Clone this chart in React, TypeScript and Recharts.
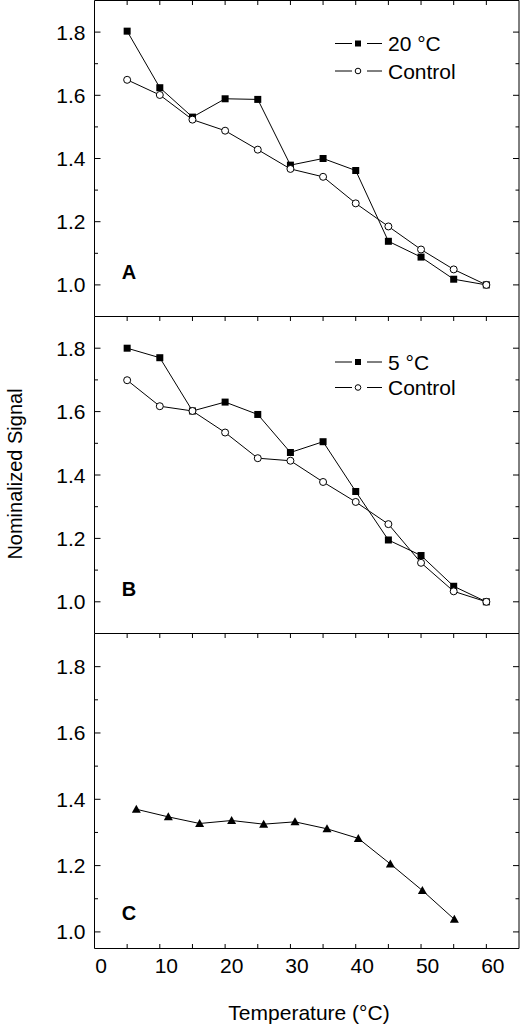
import { LineChart, Line, XAxis, YAxis, Legend } from "recharts";

// temperatures (°C) for panels A and B
const tempsAB = [4, 9, 14, 19, 24, 29, 34, 39, 44, 49, 54, 59];
const a20 = [1.803, 1.624, 1.531, 1.589, 1.587, 1.379, 1.4, 1.362, 1.138, 1.088, 1.018, 1.0];
const aCtrl = [1.649, 1.601, 1.523, 1.488, 1.428, 1.367, 1.342, 1.258, 1.185, 1.112, 1.049, 1.0];
const b5 = [1.8, 1.77, 1.602, 1.63, 1.591, 1.471, 1.505, 1.348, 1.195, 1.146, 1.049, 1.0];
const bCtrl = [1.699, 1.617, 1.602, 1.534, 1.453, 1.445, 1.378, 1.315, 1.245, 1.123, 1.033, 1.0];

// panel C
const tempsC = [5.4, 10.3, 15.1, 20.0, 24.9, 29.7, 34.6, 39.4, 44.3, 49.2, 54.1];
const cVals = [1.37, 1.347, 1.327, 1.336, 1.325, 1.332, 1.311, 1.282, 1.205, 1.125, 1.038];

const xLabels = [0, 10, 20, 30, 40, 50, 60];
const yMajor = [1.0, 1.2, 1.4, 1.6, 1.8];
const yMinor = [1.1, 1.3, 1.5, 1.7];

const FONT = "'Liberation Sans', Arial, Helvetica, sans-serif";
const X_DOMAIN = [-1, 64];
const yTicks = [...yMajor, ...yMinor].sort((a, b) => a - b);
const bottomTicks = [...xLabels, ...tempsAB].sort((a, b) => a - b);
const AXIS_LINE = { stroke: "#000", strokeWidth: 1 };

const dataA = tempsAB.map((t, i) => ({ t, s: a20[i], c: aCtrl[i] }));
const dataB = tempsAB.map((t, i) => ({ t, s: b5[i], c: bCtrl[i] }));
const dataC = tempsC.map((t, i) => ({ t, v: cVals[i] }));

function LeftTick(props: any) {
  const x = Number(props.x);
  const y = Number(props.y);
  const v = Number(props.payload.value);
  const major = yMajor.includes(v);
  return (
    <g>
      <line x1={x} x2={x + (major ? 6 : 3.5)} y1={y} y2={y} stroke="#000" strokeWidth={1} />
      {major && (
        <text x={x - 9} y={y} textAnchor="end" dominantBaseline="central" fontSize={21} fontFamily={FONT} fill="#000">
          {v.toFixed(1)}
        </text>
      )}
    </g>
  );
}

function RightTick(props: any) {
  const x = Number(props.x);
  const y = Number(props.y);
  const major = yMajor.includes(Number(props.payload.value));
  return <line x1={x} x2={x - (major ? 6 : 3.5)} y1={y} y2={y} stroke="#000" strokeWidth={1} />;
}

function TopTick(props: any) {
  const x = Number(props.x);
  const y = Number(props.y);
  return <line x1={x} x2={x} y1={y} y2={y + 4.5} stroke="#000" strokeWidth={1} />;
}

function BottomTick(props: any) {
  const x = Number(props.x);
  const y = Number(props.y);
  const v = Number(props.payload.value);
  const isLabel = xLabels.includes(v) && props.showLabels;
  const isTick = tempsAB.includes(v);
  return (
    <g>
      {isTick && <line x1={x} x2={x} y1={y} y2={y - 4.5} stroke="#000" strokeWidth={1} />}
      {isLabel && (
        <text x={x} y={y + 17} textAnchor="middle" dominantBaseline="central" fontSize={21} fontFamily={FONT} fill="#000">
          {v}
        </text>
      )}
    </g>
  );
}

const Square = (props: any) => {
  const { cx, cy } = props;
  if (cx == null || cy == null) return null;
  return <rect x={cx - 3.5} y={cy - 3.5} width={7} height={7} fill="#000" />;
};

const Triangle = (props: any) => {
  const { cx, cy } = props;
  if (cx == null || cy == null) return null;
  return <path d={`M${cx},${cy - 4.5} L${cx + 4.5},${cy + 3.5} L${cx - 4.5},${cy + 3.5} Z`} fill="#000" />;
};

function LegendBox({ label, rows }: { label: string; rows: number[] }) {
  return (
    <svg width={140} height={50} style={{ overflow: "visible" }}>
      <line x1={5} x2={22} y1={rows[0]} y2={rows[0]} stroke="#000" />
      <rect x={25} y={rows[0] - 3} width={6} height={6} fill="#000" />
      <line x1={37} x2={52} y1={rows[0]} y2={rows[0]} stroke="#000" />
      <text x={58} y={rows[0]} dominantBaseline="central" fontSize={21} fontFamily={FONT} fill="#000">
        {label}
      </text>
      <line x1={5} x2={22} y1={rows[1]} y2={rows[1]} stroke="#000" />
      <circle cx={28} cy={rows[1]} r={2.8} fill="#fff" stroke="#000" />
      <line x1={37} x2={52} y1={rows[1]} y2={rows[1]} stroke="#000" />
      <text x={58} y={rows[1]} dominantBaseline="central" fontSize={21} fontFamily={FONT} fill="#000">
        Control
      </text>
    </svg>
  );
}

function Axes({ domain, showLabels, bottomHeight }: { domain: number[]; showLabels: boolean; bottomHeight: number }) {
  return [
    <XAxis
      key="xb"
      dataKey="t"
      type="number"
      domain={X_DOMAIN}
      allowDataOverflow
      ticks={showLabels ? bottomTicks : tempsAB}
      interval={0}
      height={bottomHeight}
      tickSize={0}
      tickMargin={0}
      tickLine={false}
      axisLine={AXIS_LINE}
      stroke="#000"
      tick={<BottomTick showLabels={showLabels} />}
    />,
    <XAxis
      key="xt"
      xAxisId="top"
      orientation="top"
      dataKey="t"
      type="number"
      domain={X_DOMAIN}
      allowDataOverflow
      ticks={tempsAB}
      interval={0}
      height={1}
      tickSize={0}
      tickMargin={0}
      tickLine={false}
      axisLine={AXIS_LINE}
      stroke="#000"
      tick={<TopTick />}
    />,
    <YAxis
      key="yl"
      type="number"
      domain={domain}
      allowDataOverflow
      ticks={yTicks}
      interval={0}
      width={94.5}
      tickSize={0}
      tickMargin={0}
      tickLine={false}
      axisLine={AXIS_LINE}
      stroke="#000"
      tick={<LeftTick />}
    />,
    <YAxis
      key="yr"
      yAxisId="right"
      orientation="right"
      type="number"
      domain={domain}
      allowDataOverflow
      ticks={yTicks}
      interval={0}
      width={1}
      tickSize={0}
      tickMargin={0}
      tickLine={false}
      axisLine={AXIS_LINE}
      stroke="#000"
      tick={<RightTick />}
    />,
  ];
}

const letterStyle: React.CSSProperties = {
  position: "absolute",
  left: 129,
  transform: "translate(-50%, -50%)",
  fontFamily: FONT,
  fontWeight: "bold",
  fontSize: 20,
  lineHeight: 1,
};

export default function App() {
  return (
    <div style={{ position: "absolute", left: 0, top: 0, width: 520, height: 1031, background: "#fff", fontFamily: FONT }}>
      <div style={{ position: "absolute", left: 0, top: 0 }}>
        <LineChart width={520} height={317} data={dataA} margin={{ top: -0.5, right: 0, bottom: 0.5, left: 0 }}>
          {Axes({ domain: [0.9, 1.9], showLabels: false, bottomHeight: 0 })}
          <Line type="linear" dataKey="s" stroke="#000" strokeWidth={1} dot={<Square />} isAnimationActive={false} />
          <Line type="linear" dataKey="c" stroke="#000" strokeWidth={1} dot={{ r: 3.5, fill: "#fff", stroke: "#000", strokeWidth: 1 }} isAnimationActive={false} />
          <Legend
            layout="vertical"
            align="center"
            verticalAlign="middle"
            wrapperStyle={{ left: 330, top: 0, width: 140 }}
            content={() => <LegendBox label="20 °C" rows={[43.5, 71]} />}
          />
        </LineChart>
      </div>
      <div style={{ position: "absolute", left: 0, top: 316 }}>
        <LineChart width={520} height={318} data={dataB} margin={{ top: -0.5, right: 0, bottom: 0.5, left: 0 }}>
          {Axes({ domain: [0.9, 1.9], showLabels: false, bottomHeight: 0 })}
          <Line type="linear" dataKey="s" stroke="#000" strokeWidth={1} dot={<Square />} isAnimationActive={false} />
          <Line type="linear" dataKey="c" stroke="#000" strokeWidth={1} dot={{ r: 3.5, fill: "#fff", stroke: "#000", strokeWidth: 1 }} isAnimationActive={false} />
          <Legend
            layout="vertical"
            align="center"
            verticalAlign="middle"
            wrapperStyle={{ left: 330, top: 0, width: 140 }}
            content={() => <LegendBox label="5 °C" rows={[46, 71.5]} />}
          />
        </LineChart>
      </div>
      <div style={{ position: "absolute", left: 0, top: 633 }}>
        <LineChart width={520} height={398} data={dataC} margin={{ top: -0.5, right: 0, bottom: 0, left: 0 }}>
          {Axes({ domain: [0.95, 1.9], showLabels: true, bottomHeight: 82.5 })}
          <Line type="linear" dataKey="v" stroke="#000" strokeWidth={1} dot={<Triangle />} isAnimationActive={false} />
        </LineChart>
      </div>
      <div style={{ ...letterStyle, top: 272 }}>A</div>
      <div style={{ ...letterStyle, top: 589 }}>B</div>
      <div style={{ ...letterStyle, top: 913 }}>C</div>
      <div
        style={{
          position: "absolute",
          left: 15,
          top: 473.5,
          transform: "translate(-50%, -50%) rotate(-90deg)",
          fontSize: 20,
          lineHeight: 1,
          whiteSpace: "nowrap",
        }}
      >
        Nominalized Signal
      </div>
      <div
        style={{
          position: "absolute",
          left: 309,
          top: 1012,
          transform: "translate(-50%, -50%)",
          fontSize: 21,
          lineHeight: 1,
          whiteSpace: "nowrap",
        }}
      >
        Temperature (°C)
      </div>
    </div>
  );
}
